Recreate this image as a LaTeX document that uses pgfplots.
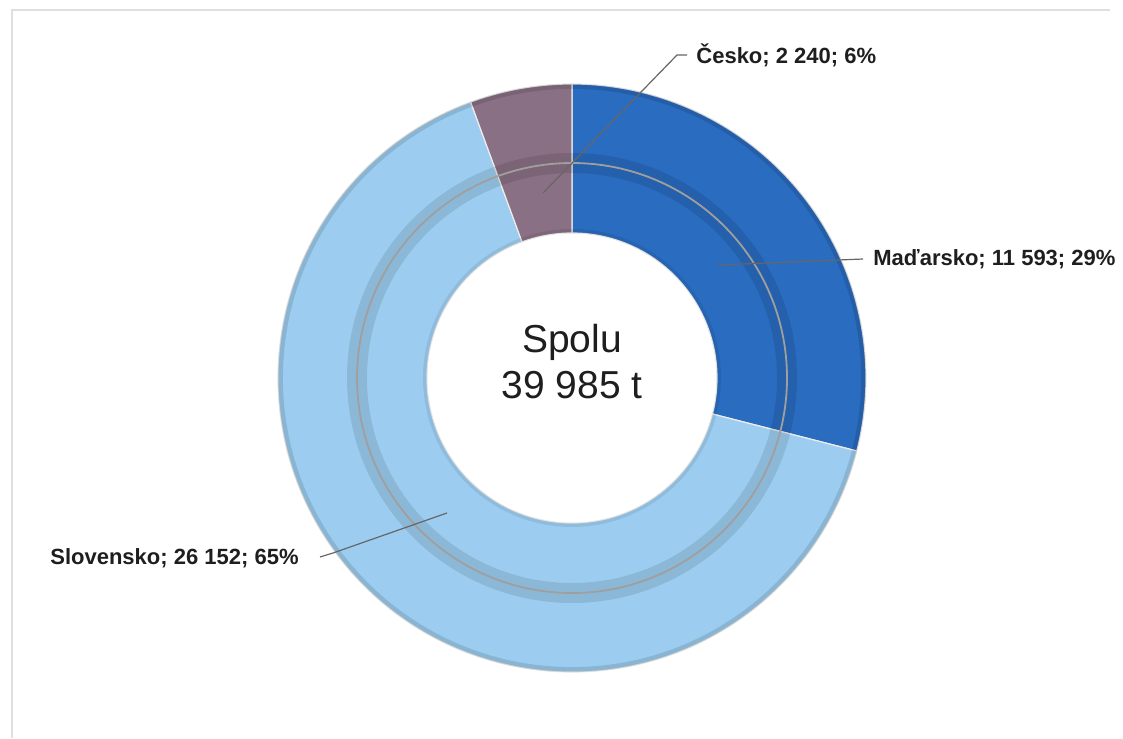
\documentclass[border=0pt]{standalone}
\usepackage{pgfplots}
\pgfplotsset{compat=1.18}
\usepackage{pgfplotstable}
\usepackage{xfp}
\usepackage{fontspec}
\setmainfont{Liberation Sans}
\usetikzlibrary{calc}
\definecolor{hu}{HTML}{2A6CC0}
\definecolor{sk}{HTML}{9CCDF0}
\definecolor{cz}{HTML}{8A7084}
\definecolor{txt}{HTML}{1E1E1E}

\pgfplotstableread{
country value
Madarsko 11593
Slovensko 26152
Cesko 2240
}\datatable
\pgfplotstablegetelem{0}{value}\of\datatable\edef\vA{\pgfplotsretval}
\pgfplotstablegetelem{1}{value}\of\datatable\edef\vB{\pgfplotsretval}
\pgfplotstablegetelem{2}{value}\of\datatable\edef\vC{\pgfplotsretval}
\edef\aA{90}
\edef\aB{\fpeval{90-360*\vA/(\vA+\vB+\vC)}}
\edef\aC{\fpeval{\aB-360*\vB/(\vA+\vB+\vC)}}
\edef\aD{\fpeval{\aC-360*\vC/(\vA+\vB+\vC)}}

\def\Ro{147pt}
\def\Rm{107.5pt}
\def\Ri{72.5pt}

\begin{document}
\begin{tikzpicture}
\begin{axis}[hide axis, x=0.5pt, y=0.5pt, xmin=0, xmax=1123, ymin=0, ymax=738,
  clip=false, scale only axis]
\path (axis cs:0,0) rectangle (axis cs:1123,738);
% frame
\addplot[gray!25, line width=0.6pt, no marks] coordinates {(12,0) (12,728) (1110,728)};
% sectors
\fill[hu, draw=white!85!gray, line width=0.6pt] ($(axis cs:572,360)+(\aA:\Ro)$) arc[start angle=\aA, end angle=\aB, radius=\Ro] -- ($(axis cs:572,360)+(\aB:\Ri)$) arc[start angle=\aB, end angle=\aA, radius=\Ri] -- cycle;
\fill[sk, draw=white!85!gray, line width=0.6pt] ($(axis cs:572,360)+(\aB:\Ro)$) arc[start angle=\aB, end angle=\aC, radius=\Ro] -- ($(axis cs:572,360)+(\aC:\Ri)$) arc[start angle=\aC, end angle=\aB, radius=\Ri] -- cycle;
\fill[cz, draw=white!85!gray, line width=0.6pt] ($(axis cs:572,360)+(\aC:\Ro)$) arc[start angle=\aC, end angle=\aD, radius=\Ro] -- ($(axis cs:572,360)+(\aD:\Ri)$) arc[start angle=\aD, end angle=\aC, radius=\Ri] -- cycle;
% shading
\draw[black, opacity=0.10, line width=10pt] (axis cs:572,360) circle[radius=\Rm];
\draw[black, opacity=0.12, line width=2.5pt] (axis cs:572,360) circle[radius=145.8pt];
\draw[black, opacity=0.08, line width=2pt] (axis cs:572,360) circle[radius=73.5pt];
\draw[gray!75, line width=0.9pt] (axis cs:572,360) circle[radius=\Rm];
% leader lines
\addplot[gray!80!black, line width=0.6pt, no marks] coordinates {(543,545) (677,683) (687,683)};
\addplot[gray!80!black, line width=0.6pt, no marks] coordinates {(717,473) (863,479)};
\addplot[gray!80!black, line width=0.6pt, no marks] coordinates {(447,225) (333,185) (320,181)};
% labels
\node[anchor=west, inner sep=0pt, text=txt, font=\fontsize{11}{13}\selectfont\bfseries] at (axis cs:696,683) {Česko; 2 240; 6\%};
\node[anchor=west, inner sep=0pt, text=txt, font=\fontsize{11}{13}\selectfont\bfseries] at (axis cs:873,479) {Maďarsko; 11 593; 29\%};
\node[anchor=east, inner sep=0pt, text=txt, font=\fontsize{11}{13}\selectfont\bfseries] at (axis cs:299,180) {Slovensko; 26 152; 65\%};
\node[align=center, inner sep=0pt, text=txt, font=\fontsize{19.5}{23}\selectfont] at (axis cs:572,376) {Spolu\\39 985 t};
\end{axis}
\end{tikzpicture}
\end{document}
